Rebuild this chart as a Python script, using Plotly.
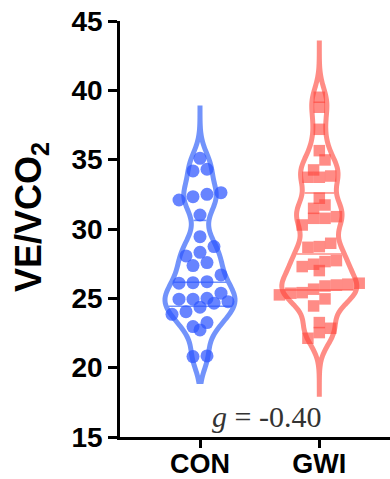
import numpy as np
import plotly.graph_objects as go

# ---------------- data ----------------
categories = ["CON", "GWI"]
con_values = [35.1, 34.31, 34.19, 32.5, 32.62, 32.09, 32.33, 31.01, 29.45, 28.73,
              28.06, 28.32, 27.58, 27.36, 26.69, 26.13, 26.09, 26.2, 24.94, 24.65,
              25.0, 25.37, 24.94, 24.76, 24.04, 24.36, 23.85, 23.25, 22.72, 22.96,
              20.8, 20.85]
gwi_values = [39.5, 38.78, 37.19, 35.65, 34.98, 34.26, 33.82, 33.73, 33.73, 32.22,
              31.73, 31.49, 30.77, 30.89, 30.77, 30.29, 28.97, 28.73, 28.68, 27.65,
              27.72, 27.46, 27.29, 27.0, 26.09, 25.89, 25.96, 26.02, 25.41, 25.25,
              25.37, 25.66, 24.96, 24.45, 23.25, 22.84, 22.53, 22.12]
con_span = [19.0, 38.9]
gwi_span = [17.9, 43.6]
y_ticks = [15, 20, 25, 30, 35, 40, 45]
y_label = "<b>VE/VCO<sub>2</sub></b>"
effect_text = "<i>g</i> = -0.40"

# ---------------- styles ----------------
PX_PER_X = 119.3
groups = [
    dict(name="CON", vals=con_values, span=con_span, bw=1.0, width_px=70,
         line="rgba(60,105,250,0.72)", pt="rgba(45,85,255,0.72)",
         symbol="circle", size=13, step_px=14, bin_h=1.0),
    dict(name="GWI", vals=gwi_values, span=gwi_span, bw=1.0, width_px=75,
         line="rgba(255,85,75,0.68)", pt="rgba(255,70,60,0.62)",
         symbol="square", size=11.5, step_px=11.4, bin_h=1.0),
]


def kde(vals, bw, grid):
    v = np.asarray(vals)[:, None]
    return np.exp(-0.5 * ((grid[None, :] - v) / bw) ** 2).sum(axis=0)


def swarm(vals, bin_h, step):
    v = np.asarray(vals, dtype=float)
    lo = v.min()
    bins = np.floor((v - lo) / bin_h + 1e-9).astype(int)
    off = np.zeros(len(v))
    for b in np.unique(bins):
        idx = np.where(bins == b)[0]
        idx = idx[np.argsort(v[idx])]
        m = len(idx)
        for k, i in enumerate(idx):
            off[i] = (k - (m - 1) / 2) * step
    return off


fig = go.Figure()

for xi, g in enumerate(groups):
    vals = np.asarray(g["vals"], dtype=float)
    width = g["width_px"] / PX_PER_X
    grid = np.linspace(g["span"][0], g["span"][1], 2000)
    dens = kde(vals, g["bw"], grid)
    dmax = dens.max()
    qs = np.percentile(vals, [25, 50, 75], method="weibull")
    for q in qs:
        hw = (width / 2) * kde(vals, g["bw"], np.array([q]))[0] / dmax
        hw = max(hw - 2.5 / PX_PER_X, 0)
        fig.add_trace(go.Scatter(
            x=[xi - hw, xi + hw], y=[q, q], mode="lines",
            line=dict(color=g["line"], width=1.6),
            showlegend=False, hoverinfo="skip"))
    fig.add_trace(go.Violin(
        x=[xi] * len(vals), y=vals, name=g["name"],
        bandwidth=g["bw"], spanmode="manual", span=g["span"],
        scalemode="width", width=width, points=False,
        line=dict(color=g["line"], width=5),
        fillcolor="rgba(0,0,0,0)",
        box_visible=False, meanline_visible=False,
        showlegend=False, hoverinfo="skip"))

for xi, g in enumerate(groups):
    vals = np.asarray(g["vals"], dtype=float)
    off = swarm(vals, g["bin_h"], g["step_px"]) / PX_PER_X
    fig.add_trace(go.Scatter(
        x=xi + off, y=vals, mode="markers",
        marker=dict(symbol=g["symbol"], size=g["size"], color=g["pt"],
                    line=dict(width=0)),
        showlegend=False, hoverinfo="skip"))

fig.add_annotation(
    text=y_label, textangle=-90, xref="paper", yref="paper",
    x=(31 - 120) / 270, y=(437 - 217) / 416, xanchor="center", yanchor="middle",
    showarrow=False, font=dict(family="Liberation Sans, Arial", size=36, color="black"))

fig.add_annotation(
    text=effect_text, xref="x", yref="y", x=0.56, y=16.5,
    xanchor="center", yanchor="middle", showarrow=False,
    font=dict(family="Liberation Serif, Times New Roman", size=30, color="#333333"))

fig.update_layout(
    width=390, height=479,
    margin=dict(l=120, r=0, t=21, b=42),
    plot_bgcolor="white", paper_bgcolor="white",
    violinmode="overlay",
    showlegend=False,
)
fig.update_xaxes(
    range=[-0.6705, 1.5925], tickvals=[0, 1], ticktext=categories,
    automargin=False, ticklabeloverflow="allow",
    showgrid=False, zeroline=False, showline=True, linecolor="black", linewidth=2.5,
    ticks="outside", ticklen=8, tickwidth=2.5, tickcolor="black",
    ticklabelstandoff=-7,
    tickfont=dict(family="Liberation Sans, Arial", size=27, color="black", weight="bold"),
)
fig.update_yaxes(
    range=[15, 45], tickvals=y_ticks, ticktext=[str(t) for t in y_ticks],
    automargin=False, ticklabeloverflow="allow",
    showgrid=False, zeroline=False, showline=True, linecolor="black", linewidth=2.5,
    ticks="outside", ticklen=9, tickwidth=2.5, tickcolor="black",
    tickfont=dict(family="Liberation Sans, Arial", size=28, color="black", weight="bold"),
)

# remove the default 8px page margin so the figure fills the window exactly
fig.write_html("out.html",
               config={"displayModeBar": False},
               post_script="document.body.style.margin='0';document.body.style.overflow='hidden';")
